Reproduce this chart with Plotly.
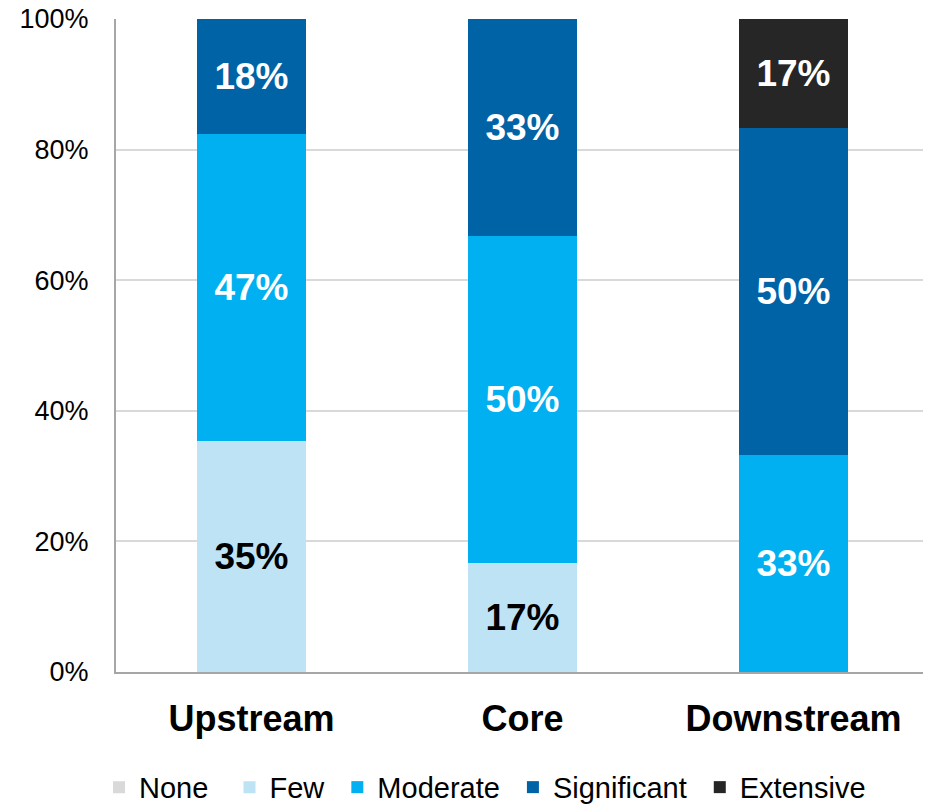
import plotly.graph_objects as go

categories = ["Upstream", "Core", "Downstream"]
series_names = ["None", "Few", "Moderate", "Significant", "Extensive"]
none_vals = [0, 0, 0]
few_vals = [35.3, 16.7, 0]
moderate_vals = [47.1, 50.0, 33.3]
significant_vals = [17.6, 33.3, 50.0]
extensive_vals = [0, 0, 16.7]
tick_vals = [0, 20, 40, 60, 80, 100]
tick_text = ["0%", "20%", "40%", "60%", "80%", "100%"]

colors = ["#D9D9D9", "#BDE3F4", "#00B0F0", "#0063A6", "#262626"]
label_colors = ["#000000", "#000000", "#FFFFFF", "#FFFFFF", "#FFFFFF"]
legend_pad = [2, 1, 1, 1, 0]
all_vals = [none_vals, few_vals, moderate_vals, significant_vals, extensive_vals]

fig = go.Figure()
for name, vals, c, lc, pad in zip(series_names, all_vals, colors, label_colors, legend_pad):
    fig.add_trace(go.Bar(
        name=name + "\u00a0" * pad, x=categories, y=vals, marker_color=c, marker_line_width=0,
        text=[f"{round(v)}%" if v > 0 else "" for v in vals],
        textposition="inside", insidetextanchor="middle",
        textfont=dict(family="Liberation Sans, Arial", size=37, color=lc),
        texttemplate="<b>%{text}</b>", cliponaxis=False,
    ))

fig.update_layout(
    barmode="stack", bargap=0.6,
    width=915, height=796,
    margin=dict(l=108, r=0, t=11, b=132),
    plot_bgcolor="white", paper_bgcolor="white",
    uniformtext=dict(mode=False),
    font=dict(family="Liberation Sans, Arial", color="#000000"),
    legend=dict(orientation="h", xref="container", yref="container",
                x=0.0995, xanchor="left", y=0.021, yanchor="middle",
                font=dict(family="Liberation Sans, Arial", size=29),
                itemwidth=30, traceorder="normal"),
    showlegend=True,
)
fig.update_xaxes(
    range=[-0.5, 2.478],
    showline=True, linecolor="#A6A6A6", linewidth=2, ticks="",
    tickfont=dict(family="Liberation Sans, Arial", size=36, color="#000000"),
    tickvals=categories, ticktext=[f"<b>{c}</b>" for c in categories],
    ticklabelstandoff=14, automargin=False, ticklabeloverflow="allow",
)
fig.update_yaxes(
    range=[0, 100], tickvals=tick_vals, ticktext=tick_text,
    showgrid=True, gridcolor="#D9D9D9", gridwidth=1.5,
    showline=True, linecolor="#A6A6A6", linewidth=2, zeroline=False,
    tickfont=dict(family="Liberation Sans, Arial", size=27, color="#000000"),
    ticklabelstandoff=20, automargin=False, ticklabeloverflow="allow",
)
fig.write_html("out.html")
